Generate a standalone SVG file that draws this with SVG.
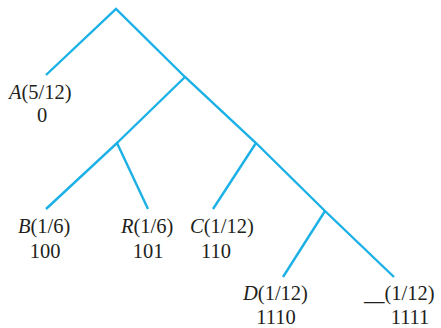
<svg xmlns="http://www.w3.org/2000/svg" width="441" height="328" viewBox="0 0 441 328">
<style>
.e{stroke:#1BB1E6;stroke-width:2.4;fill:none;stroke-linecap:butt}
text{font-family:"Liberation Serif","Times New Roman",serif;font-size:20.5px;fill:#231F20}
.i{font-style:italic}
</style>
<rect width="441" height="328" fill="#fff"/>
<g id="connectors">
<polyline class="e" points="46,75 116,9 185,77 256,143 325,211 394,277"/>
<polyline class="e" points="46,209 117,143 148,209"/>
<line class="e" x1="117" y1="143" x2="185" y2="77"/>
<line class="e" x1="213" y1="209" x2="256" y2="143"/>
<line class="e" x1="283" y1="277" x2="325" y2="211"/>
</g>
<g id="A"><text x="9" y="99"><tspan class="i">A</tspan>(5/12)</text><text x="42" y="122" text-anchor="middle">0</text></g>
<g id="B"><text x="18" y="233"><tspan class="i">B</tspan>(1/6)</text><text x="45" y="258" text-anchor="middle">100</text></g>
<g id="R"><text x="121" y="233"><tspan class="i">R</tspan>(1/6)</text><text x="148" y="258" text-anchor="middle">101</text></g>
<g id="C"><text x="190" y="233"><tspan class="i">C</tspan>(1/12)</text><text x="216" y="258" text-anchor="middle">110</text></g>
<g id="D"><text x="243" y="300"><tspan class="i">D</tspan>(1/12)</text><text x="276" y="324" text-anchor="middle">1110</text></g>
<g id="U"><text x="364" y="300">__(1/12)</text><text x="410" y="324" text-anchor="middle">1111</text></g>
</svg>
